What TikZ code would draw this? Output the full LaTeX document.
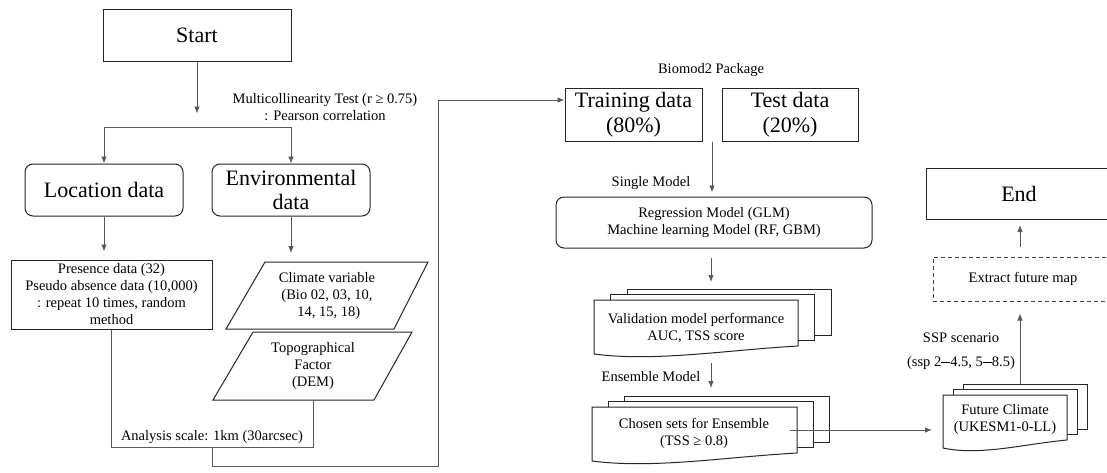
\documentclass[tikz,border=0pt]{standalone}
\usepackage{fontspec}
\setmainfont{Liberation Serif}
\usetikzlibrary{arrows.meta,calc}

% three stacked document sheets: #1 left, #2 top, #3 right, #4 lower-left bottom,
% #5/#6 shift of each sheet behind (right / up)
\newcommand\multidoc[6]{%
  \foreach \k in {2,1}{%
    \draw[docline,fill=white] ({#1+\k*#5},{#2-\k*#6}) rectangle ({#3+\k*#5},{#4-8-\k*#6});
  }
  \draw[docline,fill=white] (#1,#2) -- (#3,#2) -- (#3,{#4-8})
    .. controls ({#3-0.35*(#3-#1)},{#4-4}) and ({#1+0.3*(#3-#1)},{#4+8}) .. (#1,#4) -- cycle;
}

\begin{document}
\begin{tikzpicture}[x=1pt,y=-1pt,
  boxline/.style={draw=black!85,line width=1pt},
  docline/.style={draw=black!85,line width=1pt},
  bigbox/.style={boxline,inner sep=0pt,align=center,font=\fontsize{22}{25}\selectfont},
  smallbox/.style={boxline,inner sep=0pt,align=center,font=\fontsize{14.5}{17}\selectfont},
  txt/.style={inner sep=0pt,align=center,font=\fontsize{14.5}{17}\selectfont},
  conn/.style={draw=black!65,line width=0.8pt},
  arr/.style={conn,-{Latex[length=7pt,width=5.5pt]}},
]
\useasboundingbox (0,0) rectangle (1107,472);
\clip (0,0) rectangle (1107,472);
\fill[white] (0,0) rectangle (1107,472);

% ---------- left column ----------
\node[bigbox,minimum width=188,minimum height=52] (start) at (197,35) {Start};
\node[txt] (multi) at (325,107) {Multicollinearity Test (r ≥ 0.75)\\: Pearson correlation};
\coordinate (split) at (197,127);
\draw[arr] (start.south) -- ++(0,52);

\node[bigbox,rounded corners=8pt,minimum width=158,minimum height=52] (loc) at (104,190) {Location data};
\node[bigbox,rounded corners=8pt,minimum width=158,minimum height=52] (env) at (291,190) {Environmental\\[-1pt]data};
\draw[conn] (loc.north |- split) -- (env.north |- split);
\draw[arr] (loc.north |- split) -- (loc.north);
\draw[arr] (env.north |- split) -- (env.north);

\node[smallbox,minimum width=201,minimum height=69] (pres) at (111.5,294.5)
  {Presence data (32)\\Pseudo absence data (10,000)\\: repeat 10 times, random\\method};
\draw[arr,shorten >=8pt] (loc.south) -- (loc.south |- pres.north);

% parallelograms
\coordinate (climT) at (291,262);
\draw[boxline] (265,262) -- (428,262) -- (394,329) -- (226,329) -- cycle;
\node[txt] (clim) at (327,296) {Climate variable\\(Bio 02, 03, 10,\\\ 14, 15, 18)};
\draw[arr,shorten >=9pt] (env.south) -- (climT);

\draw[boxline] (253,332) -- (412,332) -- (374,400) -- (213,400) -- cycle;
\node[txt] (topo) at (313,366) {Topographical\\Factor\\(DEM)};
\coordinate (topoB) at (313,400);

% merge to analysis scale
\coordinate (an) at (212,447);
\coordinate (low) at (438,466);
\node[txt] (anlab) at (212,437) {Analysis scale: 1km (30arcsec)};
\draw[conn] (pres.south) |- (an) -- (an -| topoB) -- (topoB);

% ---------- middle column ----------
\node[txt] (biomod) at (711,70) {Biomod2 Package};
\node[bigbox,minimum width=137,minimum height=53] (train) at (633.5,114.5) {Training data\\(80\%)};
\node[bigbox,minimum width=136,minimum height=53] (test) at (790,114.5) {Test data\\(20\%)};
\draw[arr] (an) |- (low) |- ($(train.west)+(0,-14.5)$);

\coordinate (gap) at ($(train.south east)!0.5!(test.south west)$);
\node[txt] (single) at (651,183) {Single Model};
\node[smallbox,rounded corners=8pt,minimum width=316,minimum height=51] (reg) at (714,222.5)
  {Regression Model (GLM)\\Machine learning Model (RF, GBM)};
\draw[arr,shorten >=4pt] (gap) -- (gap |- reg.north);

% validation sheets
\multidoc{594}{300}{798}{354}{16.5}{5.5}
\node[txt] (valid) at (696,328) {Validation model performance\\AUC, TSS score};
\coordinate (valT) at (711,289);
\coordinate (valB) at (711,354);
\draw[arr,shorten <=9pt,shorten >=7pt] (reg.south -| valT) -- (valT);

\node[txt] (ensm) at (651,377) {Ensemble Model};
\multidoc{592}{407}{797}{461}{16}{5.5}
\node[txt] (chosen) at (694,433) {Chosen sets for Ensemble\\(TSS ≥ 0.8)};
\coordinate (chT) at (711,396);
\draw[arr,shorten <=9pt,shorten >=8pt] (valB) -- (chT);
\coordinate (chOut) at (790,430);

% ---------- right column ----------
\node[bigbox,minimum width=186,minimum height=51] (end) at (1019,193.5) {End};
\node[txt,draw=black!75,line width=1pt,dashed,dash pattern=on 4pt off 3pt,
  minimum width=180,minimum height=44] (extract) at (1023,279) {Extract future map};
\coordinate (exT) at (1020,257);
\coordinate (enB) at (1020,219);
\draw[arr,shorten <=10pt,shorten >=6pt] (exT) -- (enB);

\multidoc{943}{395}{1067}{448}{10}{5.5}
\node[txt] (future) at (1005,420) {Future Climate\\(UKESM1-0-LL)};
\coordinate (fuL) at (943,430);
\coordinate (fuT) at (1020,384);
\draw[arr,shorten >=11pt] (chOut) -- (fuL);
\draw[arr,shorten >=12pt] (fuT) -- (fuT |- extract.south);

\node[txt] (ssp) at (961,351) {SSP scenario\\[7pt](ssp 2\raisebox{0.5ex}{\rule{9pt}{1.4pt}}4.5, 5\raisebox{0.5ex}{\rule{9pt}{1.4pt}}8.5)};
\end{tikzpicture}
\end{document}
